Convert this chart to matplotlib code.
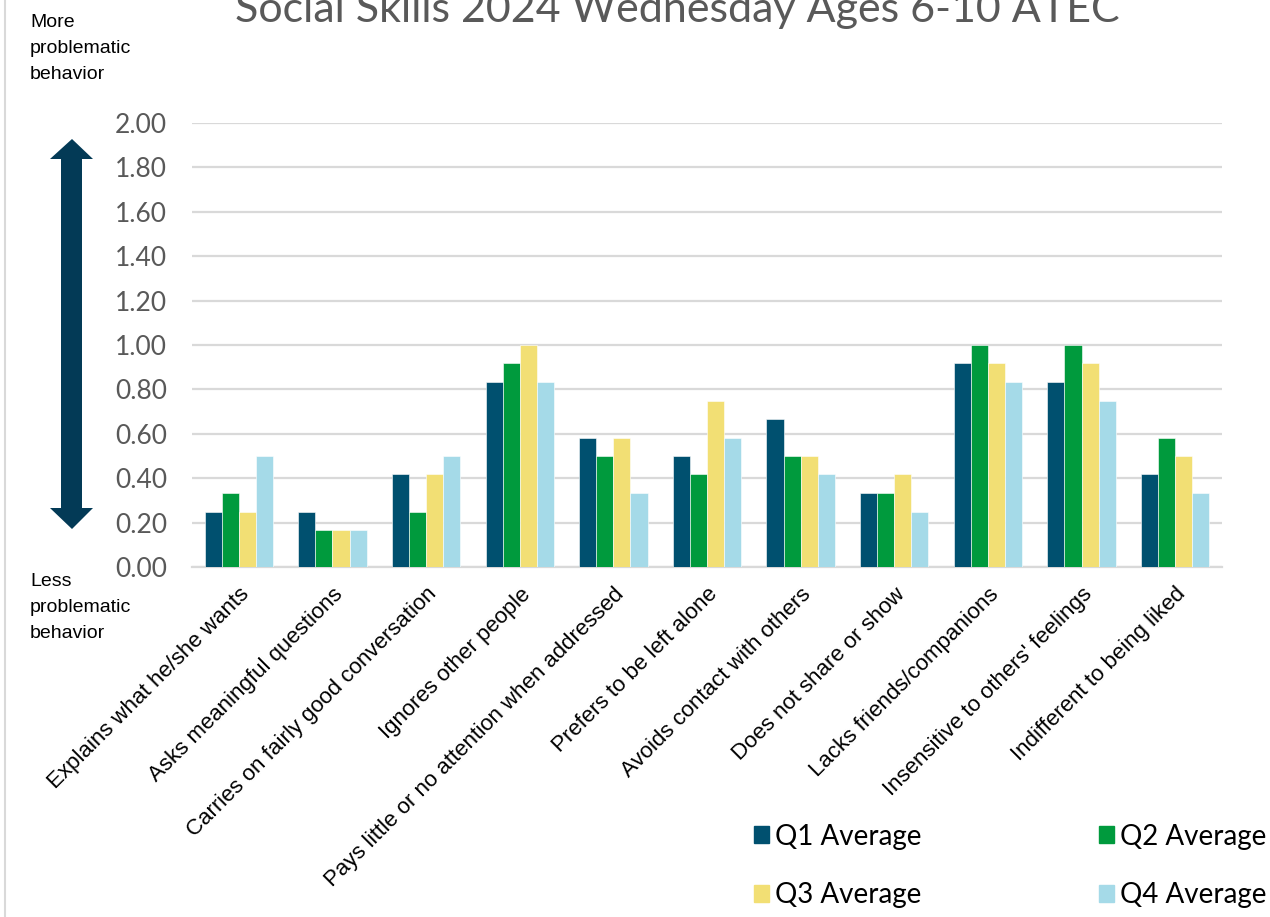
import matplotlib
matplotlib.use("Agg")
import matplotlib.pyplot as plt
import matplotlib.patches as mpatches
import matplotlib.transforms as mtransforms
from matplotlib.lines import Line2D
import numpy as np

categories = [
    "Explains what he/she wants",
    "Asks meaningful questions",
    "Carries on fairly good conversation",
    "Ignores other people",
    "Pays little or no attention when addressed",
    "Prefers to be left alone",
    "Avoids contact with others",
    "Does not share or show",
    "Lacks friends/companions",
    "Insensitive to others' feelings",
    "Indifferent to being liked",
]
q1 = [0.25, 0.25, 0.4167, 0.8333, 0.5833, 0.50, 0.6667, 0.3333, 0.9167, 0.8333, 0.4167]
q2 = [0.3333, 0.1667, 0.25, 0.9167, 0.50, 0.4167, 0.50, 0.3333, 1.00, 1.00, 0.5833]
q3 = [0.25, 0.1667, 0.4167, 1.00, 0.5833, 0.75, 0.50, 0.4167, 0.9167, 0.9167, 0.50]
q4 = [0.50, 0.1667, 0.50, 0.8333, 0.3333, 0.5833, 0.4167, 0.25, 0.8333, 0.75, 0.3333]
series = ["Q1 Average", "Q2 Average", "Q3 Average", "Q4 Average"]
colors = ["#00506f", "#009a3d", "#f2df74", "#a5dae8"]
yticks = [0.0, 0.2, 0.4, 0.6, 0.8, 1.0, 1.2, 1.4, 1.6, 1.8, 2.0]

W, H = 1270, 917
fig = plt.figure(figsize=(W / 100, H / 100), dpi=100)
ax = fig.add_axes([192 / W, 1 - 567 / H, 1030 / W, 444 / H])

x = np.arange(len(categories))
bw = 0.1825
for i, (vals, c, name) in enumerate(zip([q1, q2, q3, q4], colors, series)):
    ax.bar(x + (i - 1.5) * bw, vals, bw, color=c, label=name, zorder=3,
           edgecolor="white", linewidth=0.4)

ax.set_xlim(-0.5, len(categories) - 0.5)
ax.set_ylim(0, 2.0)
ax.set_yticks(yticks)
ax.set_yticklabels([f"{v:.2f}" for v in yticks], fontsize=19, color="#595959",
                   family="Lato")
ax.yaxis.grid(True, color="#d9d9d9", linewidth=1.6, zorder=0)
ax.tick_params(axis="y", length=0, pad=18)
ax.tick_params(axis="x", length=0, pad=12)
ax.set_xticks(x)
ax.set_xticklabels(categories, rotation=45, ha="right", rotation_mode="anchor",
                   fontsize=16, family="Liberation Sans", color="black")
for s in ["top", "right", "left"]:
    ax.spines[s].set_visible(False)
ax.spines["bottom"].set_color("#d9d9d9")
ax.spines["bottom"].set_linewidth(1.6)

# pixel-based transform for the decorations outside the axes
px = mtransforms.Affine2D().scale(1 / W, -1 / H).translate(0, 1) + fig.transFigure

fig.text(677 / W, 1 - 22 / H, "Social Skills 2024 Wednesday Ages 6-10 ATEC",
         ha="center", va="baseline", fontsize=31, color="#595959", family="Lato")

fig.text(30 / W, 1 - 14 / H, "More\nproblematic\nbehavior", ha="left", va="top",
         fontsize=14, family="Liberation Sans", linespacing=1.7)
fig.text(30 / W, 1 - 573 / H, "Less\nproblematic\nbehavior", ha="left", va="top",
         fontsize=14, family="Liberation Sans", linespacing=1.7)

# double-headed arrow
arrow = mpatches.Polygon(
    [(72, 139), (93, 159), (82, 159), (82, 508), (93, 508), (72, 529),
     (50, 508), (61, 508), (61, 159), (50, 159)],
    closed=True, transform=px, facecolor="#033a56", edgecolor="none")
fig.add_artist(arrow)

# left frame edge
fig.add_artist(Line2D([5, 5], [0, H], transform=px, color="#d9d9d9", linewidth=1.5))

# legend filled row by row: Q1 Q2 / Q3 Q4
handles = [mpatches.Patch(color=c) for c in colors]
order = [0, 2, 1, 3]
fig.legend([handles[k] for k in order], [series[k] for k in order],
           loc="center left", ncol=2,
           bbox_to_anchor=(754 / W, 1 - 866 / H), frameon=False,
           borderpad=0, borderaxespad=0,
           prop={"family": "Lato", "size": 20},
           handlelength=0.55, handleheight=0.55, handletextpad=0.2,
           columnspacing=6.4, labelspacing=1.18)

fig.savefig("out.png", dpi=100)
